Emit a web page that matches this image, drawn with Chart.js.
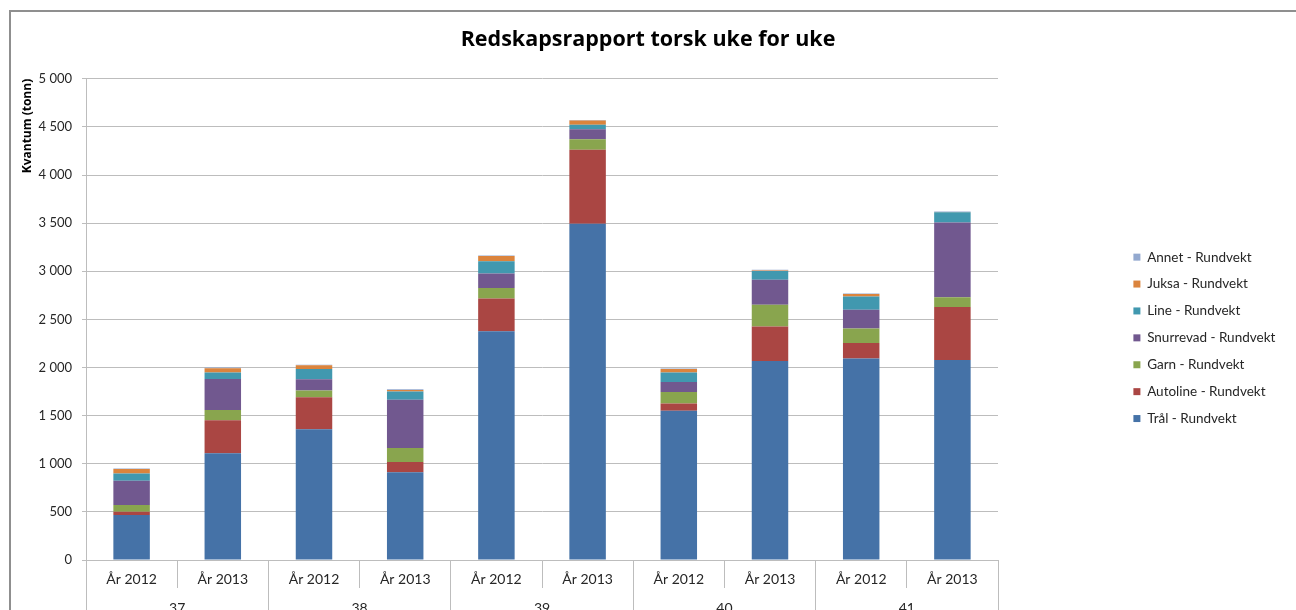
<!DOCTYPE html>
<html>
<head>
<meta charset="utf-8">
<script src="https://cdn.jsdelivr.net/npm/chart.js@4.4.0/dist/chart.umd.min.js"></script>
<style>
  html, body { margin: 0; padding: 0; background: #fff; overflow: hidden; }
  #wrap { position: relative; width: 1296px; height: 610px; overflow: hidden; }
  #frame { position: absolute; left: 9px; top: 10px; width: 1300px; height: 700px;
           border-top: 2px solid #8f8f8f; border-left: 2px solid #8f8f8f; }
  #myChart { position: absolute; left: 0; top: 0; }
</style>
</head>
<body>
<div id="wrap">
  <div id="frame"></div>
  <canvas id="myChart" width="1296" height="640"></canvas>
</div>
<script>
// week groups and the two years shown inside each group
const weeks = ['37', '38', '39', '40', '41'];
const years = ['År 2012', 'År 2013'];

// tonnes per gear type, one value per bar (37/2012, 37/2013, 38/2012 ...)
const tral      = [468, 1109, 1358, 911, 2377, 3493, 1552, 2069, 2093, 2079];
const autoline  = [34, 343, 333, 108, 339, 769, 73, 356, 163, 551];
const garn      = [70, 107, 69, 145, 111, 111, 121, 226, 149, 101];
const snurrevad = [252, 322, 118, 502, 149, 104, 104, 260, 194, 776];
const line      = [76, 66, 107, 84, 129, 45, 97, 93, 138, 107];
const juksa     = [46, 45, 39, 17, 55, 45, 38, 3, 28, 3];
const annet     = [4, 8, 4, 8, 4, 5, 5, 8, 5, 5];

// y axis ticks
const yMin = 0;
const yMax = 5000;
const yStep = 500;

const barLabels = weeks.flatMap(() => years);

const series = [
    { label: 'Trål - Rundvekt', data: tral, color: '#4572A7' },
    { label: 'Autoline - Rundvekt', data: autoline, color: '#AA4643' },
    { label: 'Garn - Rundvekt', data: garn, color: '#89A54E' },
    { label: 'Snurrevad - Rundvekt', data: snurrevad, color: '#71588F' },
    { label: 'Line - Rundvekt', data: line, color: '#4198AF' },
    { label: 'Juksa - Rundvekt', data: juksa, color: '#DB843D' },
    { label: 'Annet - Rundvekt', data: annet, color: '#93A9CF' }
];

const fmt = v => String(v).replace(/\B(?=(\d{3})+(?!\d))/g, ' ');

const gridColor = '#bdbdbd';
const textColor = '#262626';
Chart.defaults.font.family = 'Lato, "Open Sans", sans-serif';

// title spans the whole frame, legend sits to the right of the plot
const placeBlocks = {
    id: 'placeBlocks',
    afterLayout(chart) {
        const t = chart.titleBlock;
        t.left = 0;
        t.right = 1296;
        t.width = 1296;

        const lg = chart.legend;
        lg.left = 1120;
        lg.right = 1296;
        lg.top = 237;
        lg.bottom = 470;
        lg.width = lg.right - lg.left;
        lg.height = lg.bottom - lg.top;
    }
};

const ctx = document.getElementById('myChart');
const chart = new Chart(ctx, {
    type: 'bar',
    data: {
        labels: barLabels,
        datasets: series.map(s => ({
            label: s.label,
            data: s.data,
            backgroundColor: s.color,
            borderWidth: 0,
            barPercentage: 0.4,
            categoryPercentage: 1
        }))
    },
    options: {
        responsive: false,
        animation: false,
        layout: { padding: { left: 0, right: 298, top: 0, bottom: 0 } },
        plugins: {
            title: {
                display: true,
                text: 'Redskapsrapport torsk uke for uke',
                color: '#000',
                font: { family: '"Open Sans", Lato, sans-serif', size: 21.5, weight: 'bold' },
                padding: { top: 27, bottom: 26 }
            },
            legend: {
                position: 'chartArea',
                align: 'start',
                reverse: true,
                labels: {
                    boxWidth: 7,
                    boxHeight: 7,
                    padding: 13.4,
                    color: textColor,
                    font: { size: 13.5 }
                }
            },
            tooltip: { enabled: false }
        },
        scales: {
            x: {
                stacked: true,
                weight: 0,
                grid: { offset: true, drawOnChartArea: false, tickLength: 28, color: gridColor },
                border: { color: gridColor },
                ticks: { autoSkip: false, maxRotation: 0, padding: -17, color: textColor, font: { size: 14 } },
                afterFit: s => { s.height = 28; }
            },
            x2: {
                type: 'category',
                labels: weeks,
                position: 'bottom',
                weight: 1,
                grid: { offset: true, drawOnChartArea: false, tickLength: 40, color: gridColor },
                border: { display: false },
                ticks: { autoSkip: false, maxRotation: 0, padding: -28, color: textColor, font: { size: 14 } },
                afterFit: s => { s.height = 52; }
            },
            y: {
                stacked: true,
                min: yMin,
                max: yMax,
                grid: { color: gridColor, tickLength: 4 },
                border: { color: gridColor },
                ticks: { stepSize: yStep, padding: 10, color: textColor, font: { size: 13 }, callback: v => fmt(v) },
                title: {
                    display: true,
                    text: 'Kvantum (tonn)',
                    align: 'end',
                    color: '#000',
                    font: { family: '"Open Sans", Lato, sans-serif', size: 12, weight: 'bold' },
                    padding: { top: 20, bottom: 0 }
                },
                afterFit: s => { s.width = 86; }
            }
        }
    },
    plugins: [placeBlocks]
});
</script>
</body>
</html>
